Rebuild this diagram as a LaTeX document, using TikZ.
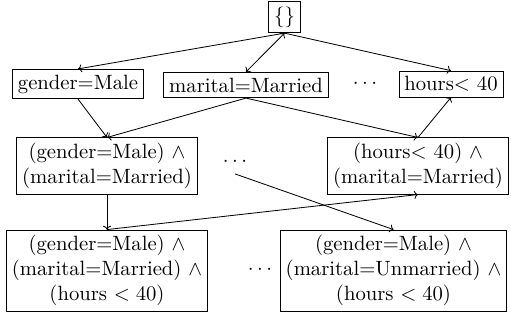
\documentclass[tikz,border=0pt]{standalone}
\usetikzlibrary{arrows.meta}
\begin{document}
\begin{tikzpicture}[x=0.017cm,y=-0.017cm,>={To[scale=0.75]}]

        \useasboundingbox (0,0) rectangle (511,320);

        \begin{scope}[every node/.style={draw,align=center,inner sep=2.6pt}]
          \node (0)  at (284.5,17)  {\{\}};
          \node (1)  at (78,84)     {gender=Male};
          \node (2)  at (246,85)    {marital=Married};
          \node (3)  at (451,84)    {hours$<$ 40};
          \node (4)  at (107,166)   {(gender=Male) $\wedge$\\(marital=Married)};
          \node (5)  at (418,166)   {(hours$<$ 40) $\wedge$\\(marital=Married)};
          \node (6)  at (107,270.5) {(gender=Male) $\wedge$\\(marital=Married) $\wedge$\\(hours $<40$)};
          \node (7)  at (393.5,270.5) {(gender=Male) $\wedge$\\(marital=Unmarried) $\wedge$\\(hours $<40$)};
        \end{scope}

        \node (d1) at (365,84)  {$\cdots$};
        \node (d2) at (235,162) {$\cdots$};
        \node (d3) at (260,270) {$\cdots$};

        \begin{scope}[every edge/.style={draw,->}]
          \path (0.south) edge (1.north);
          \path (0.south) edge[<->] (2.north);
          \path (0.south) edge (3.north);
          \path (1.south) edge (4.north);
          \path (2.south) edge (4.north);
          \path (2.south) edge (5.north);
          \path (5.north) edge (3.south);
          \path (4.south) edge (6.north);
          \path (6.north) edge (5.south);
          \path (d2.south) edge (7.north);
        \end{scope}

      \end{tikzpicture}
\end{document}
